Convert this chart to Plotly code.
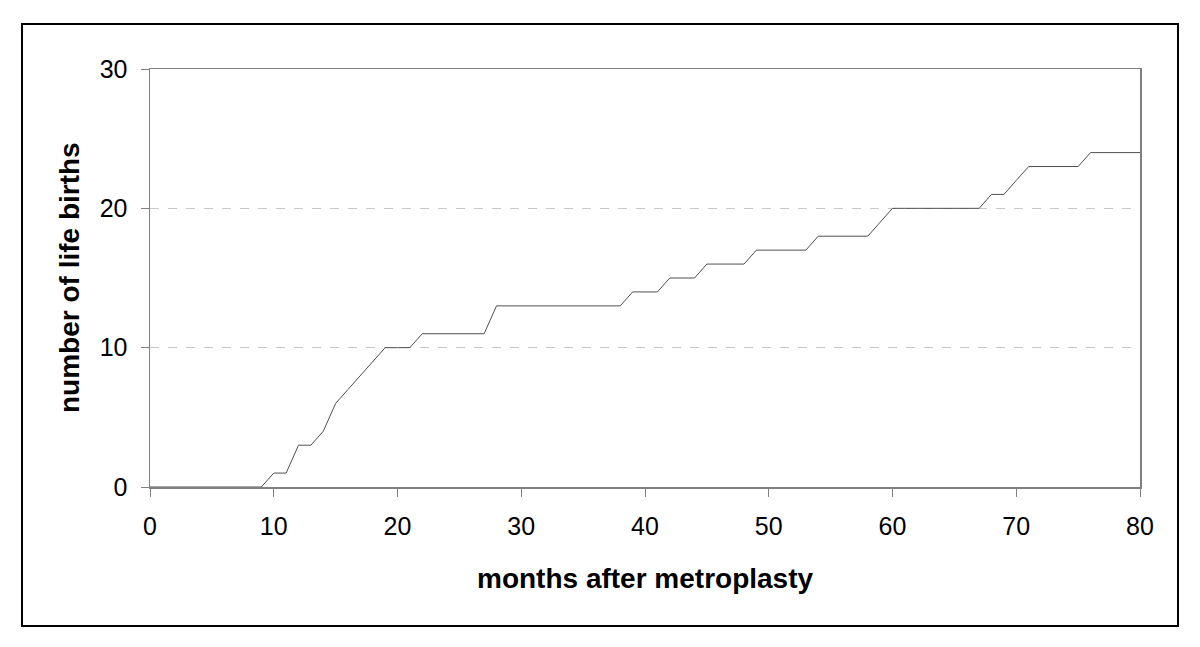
import plotly.graph_objects as go

months = list(range(0, 81))
births = [0, 0, 0, 0, 0, 0, 0, 0, 0, 0,
          1, 1, 3, 3, 4, 6, 7, 8, 9, 10,
          10, 10, 11, 11, 11, 11, 11, 11, 13, 13,
          13, 13, 13, 13, 13, 13, 13, 13, 13, 14,
          14, 14, 15, 15, 15, 16, 16, 16, 16, 17,
          17, 17, 17, 17, 18, 18, 18, 18, 18, 19,
          20, 20, 20, 20, 20, 20, 20, 20, 21, 21,
          22, 23, 23, 23, 23, 23, 24, 24, 24, 24,
          24]
x_ticks = [0, 10, 20, 30, 40, 50, 60, 70, 80]
y_ticks = [0, 10, 20, 30]
x_title = "months after metroplasty"
y_title = "number of life births"

FONT = "Liberation Sans, Arial, sans-serif"

fig = go.Figure()
fig.add_trace(go.Scatter(x=months, y=births, mode="lines",
                         line=dict(color="#505050", width=1),
                         hoverinfo="skip", showlegend=False))

fig.update_layout(
    width=1200, height=647,
    margin=dict(l=150, r=60, t=69, b=160),
    paper_bgcolor="white", plot_bgcolor="white",
    font=dict(family=FONT, size=25, color="black"),
    xaxis=dict(range=[0, 80], tickvals=x_ticks, ticks="outside", ticklen=8,
               tickcolor="#808080", showline=True, linecolor="#808080",
               linewidth=1.5, mirror=True, showgrid=False, zeroline=False,
               tickfont=dict(size=25), ticklabelstandoff=8),
    yaxis=dict(range=[0, 30], tickvals=y_ticks, ticks="outside", ticklen=8,
               tickcolor="#808080", showline=True, linecolor="#808080",
               linewidth=1.5, mirror=True, showgrid=True,
               gridcolor="#c8c8c8", griddash="dash", gridwidth=1,
               zeroline=False, tickfont=dict(size=25), ticklabelstandoff=8),
    annotations=[
        dict(text="<b>" + x_title + "</b>", xref="paper", yref="paper",
             x=0.5, y=(487 - 578) / 418, xanchor="center", yanchor="middle",
             showarrow=False, font=dict(size=28)),
        dict(text="<b>" + y_title + "</b>", xref="paper", yref="paper",
             x=(69 - 150) / 990, y=0.5, xanchor="center", yanchor="middle",
             textangle=-90, showarrow=False, font=dict(size=28)),
    ],
    shapes=[dict(type="rect", xref="paper", yref="paper",
                 x0=(22 - 150) / 990, x1=(1178 - 150) / 990,
                 y0=(487 - 626) / 418, y1=(487 - 24) / 418,
                 line=dict(color="black", width=2), layer="below")],
)

fig.write_html("out.html", config={"displayModeBar": False, "staticPlot": True},
               post_script="document.body.style.margin='0';document.body.style.overflow='hidden';")
